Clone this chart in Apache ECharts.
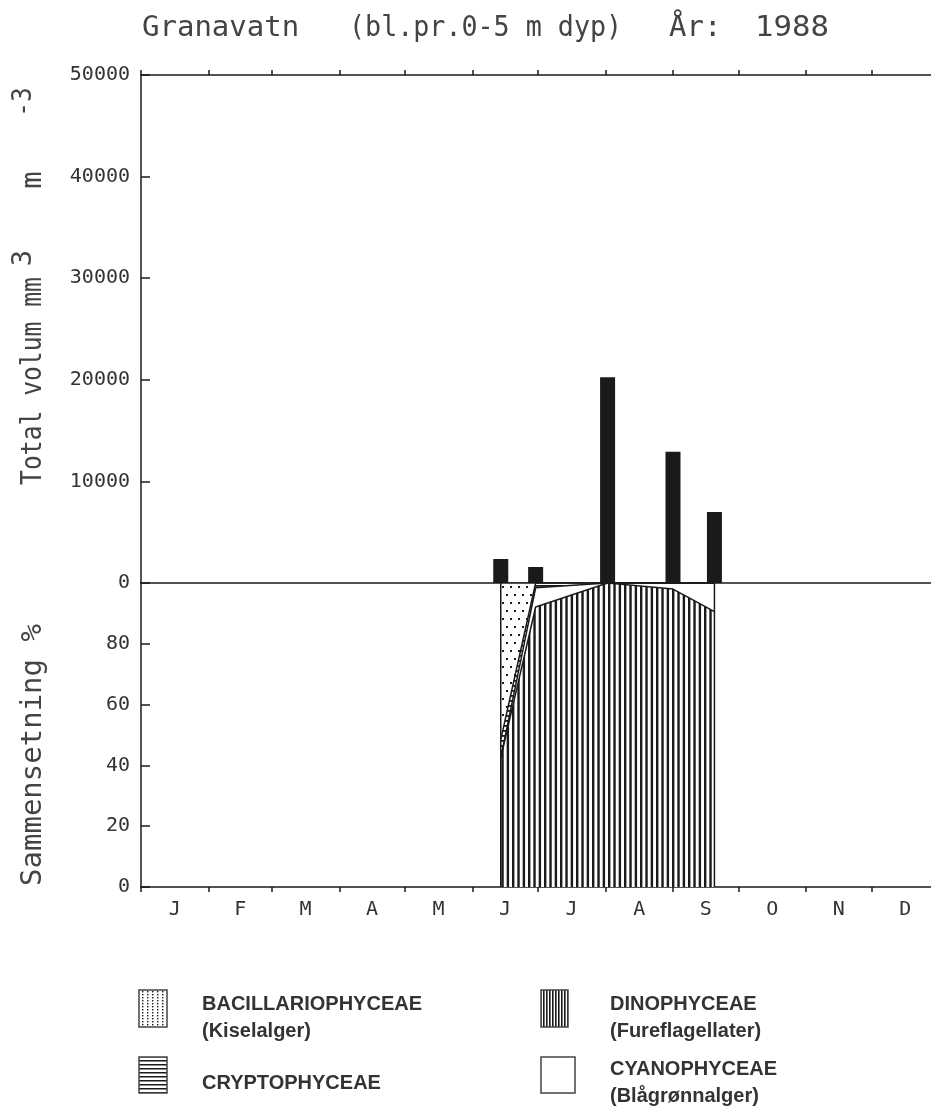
<!DOCTYPE html>
<html><head><meta charset="utf-8">
<script src="https://cdn.jsdelivr.net/npm/echarts@6/dist/echarts.min.js"></script>
<style>html,body{margin:0;padding:0;background:#fff}#c{width:931px;height:1116px}</style>
</head><body><div id="c"></div>
<script>
// ---- data ----
const monthLabels = ['J','F','M','A','M','J','J','A','S','O','N','D'];
const monthStartDays = [0,31,60,91,121,152,182,213,244,274,305,335,366]; // 1988 (leap year)
const volumeTicks = [0,10000,20000,30000,40000,50000];
const percentTicks = [0,20,40,60,80,100];
const sampleDays = [165,181,214,244,263];           // day of year of samples
const totalVolume = [2360,1575,20250,12920,6990];    // mm3 m-3
const dinophyceae = [42.5,92.1,100,98,90.6];         // %
const cyanophyceae = [0,6.3,0,2,9.4];
const cryptophyceae = [6,1.6,0,0,0];
const bacillariophyceae = [51.5,0,0,0,0];

// ---- patterns ----
function pat(w,h,draw){const c=document.createElement('canvas');c.width=w;c.height=h;const g=c.getContext('2d');g.fillStyle='#fff';g.fillRect(0,0,w,h);g.fillStyle='#1a1a1a';draw(g);return {image:c,repeat:'repeat'};}
const pDino = pat(16,4,g=>{g.fillRect(0,0,2.4,4);g.fillRect(5.33,0,2.4,4);g.fillRect(10.67,0,2.4,4);});
const pCrypto = pat(4,5,g=>g.fillRect(0,0,4,1.8));
const pBacil = pat(8,16,g=>{g.fillRect(2,2,2,2);g.fillRect(6,10,2,2);});
const lDino = pat(3,3,g=>g.fillRect(0,0,1.6,3));
const lCrypto = pat(4,4,g=>g.fillRect(0,0,4,1.5));
const lBacil = pat(5,3,g=>g.fillRect(2,1,1.4,1.4));

const monthMid = monthLabels.map((m,i)=>(monthStartDays[i]+monthStartDays[i+1])/2);
const cum = (arrs)=>sampleDays.map((d,i)=>[d, arrs.reduce((s,a)=>s+a[i],0)]);

const ink = '#1a1a1a';
const mono = '"DejaVu Sans Mono", monospace';
const legFont = 'bold 20px "Liberation Sans", Arial, sans-serif';
const axLine = {show:true,onZero:false,lineStyle:{color:ink,width:1.5}};

const chart = echarts.init(document.getElementById('c'));
const lineSeries = (name,data,fill)=>({name,type:'line',xAxisIndex:2,yAxisIndex:1,data,symbol:'none',silent:true,
  lineStyle:{color:ink,width:1.5},areaStyle:{color:fill,opacity:1}});

chart.setOption({
  animation:false,
  backgroundColor:'#fff',
  grid:[
    {left:141,top:75,width:798,height:508,outerBoundsMode:'none',containLabel:false},
    {left:141,top:583,width:798,height:304,outerBoundsMode:'none',containLabel:false}
  ],
  xAxis:[
    {gridIndex:0,type:'value',position:'top',min:0,max:366,axisLine:axLine,
     axisTick:{show:true,customValues:monthStartDays,length:5,lineStyle:{color:ink,width:1.5}},
     axisLabel:{show:false},splitLine:{show:false}},
    {gridIndex:0,type:'value',position:'bottom',min:0,max:366,axisLine:axLine,
     axisTick:{show:false},axisLabel:{show:false},splitLine:{show:false}},
    {gridIndex:1,type:'value',position:'bottom',min:0,max:366,axisLine:axLine,
     axisTick:{show:true,customValues:monthStartDays,length:5,lineStyle:{color:ink,width:1.5}},
     axisLabel:{show:true,customValues:monthMid,margin:13,color:'#333',fontFamily:mono,fontSize:20,
       formatter:v=>{const i=monthMid.findIndex(m=>Math.abs(m-v)<0.01);return i>=0?monthLabels[i]:'';}},
     splitLine:{show:false}}
  ],
  yAxis:[
    {gridIndex:0,type:'value',min:volumeTicks[0],max:volumeTicks[volumeTicks.length-1],interval:10000,
     axisLine:axLine,axisTick:{show:true,inside:true,length:9,lineStyle:{color:ink,width:1.5}},
     axisLabel:{margin:11,color:'#333',fontFamily:mono,fontSize:20,formatter:v=>String(v)},splitLine:{show:false}},
    {gridIndex:1,type:'value',min:percentTicks[0],max:percentTicks[percentTicks.length-1],interval:20,
     axisLine:axLine,axisTick:{show:true,inside:true,length:9,lineStyle:{color:ink,width:1.5}},
     axisLabel:{margin:11,color:'#333',fontFamily:mono,fontSize:20,formatter:v=>v===100?'':String(v)},splitLine:{show:false}}
  ],
  series:[
    {type:'bar',xAxisIndex:1,yAxisIndex:0,barWidth:15,silent:true,
     data:sampleDays.map((d,i)=>[d,totalVolume[i]]),itemStyle:{color:ink}},
    lineSeries('BACILLARIOPHYCEAE',cum([dinophyceae,cyanophyceae,cryptophyceae,bacillariophyceae]),pBacil),
    lineSeries('CRYPTOPHYCEAE',cum([dinophyceae,cyanophyceae,cryptophyceae]),pCrypto),
    lineSeries('CYANOPHYCEAE',cum([dinophyceae,cyanophyceae]),'#fff'),
    lineSeries('DINOPHYCEAE',cum([dinophyceae]),pDino),
    {type:'line',xAxisIndex:2,yAxisIndex:1,symbol:'none',silent:true,lineStyle:{color:ink,width:1.5},
     data:[[sampleDays[0],0],[sampleDays[0],100]]},
    {type:'line',xAxisIndex:2,yAxisIndex:1,symbol:'none',silent:true,lineStyle:{color:ink,width:1.5},
     data:[[sampleDays[sampleDays.length-1],0],[sampleDays[sampleDays.length-1],100]]}
  ],
  graphic:[
    {type:'text',x:142,y:28,style:{text:'Granavatn',font:'29px '+mono,fill:'#444',align:'left',verticalAlign:'middle'}},
    {type:'text',x:349,y:28,scaleX:0.92,style:{text:'(bl.pr.0-5 m dyp)',font:'29px '+mono,fill:'#444',align:'left',verticalAlign:'middle'}},
    {type:'text',x:669,y:28,style:{text:'År:',font:'29px '+mono,fill:'#444',align:'left',verticalAlign:'middle'}},
    {type:'text',x:755,y:28,scaleX:1.06,style:{text:'1988',font:'29px '+mono,fill:'#444',align:'left',verticalAlign:'middle'}},
    {type:'text',x:33,y:381,rotation:Math.PI/2,scaleX:0.85,style:{text:'Total volum mm',font:'29px '+mono,fill:'#444',align:'center',verticalAlign:'middle'}},
    {type:'text',x:24,y:258,rotation:Math.PI/2,style:{text:'3',font:'27px '+mono,fill:'#444',align:'center',verticalAlign:'middle'}},
    {type:'text',x:33,y:180,rotation:Math.PI/2,style:{text:'m',font:'29px '+mono,fill:'#444',align:'center',verticalAlign:'middle'}},
    {type:'text',x:24,y:102,rotation:Math.PI/2,scaleX:0.9,style:{text:'-3',font:'27px '+mono,fill:'#444',align:'center',verticalAlign:'middle'}},
    {type:'text',x:33,y:755,rotation:Math.PI/2,style:{text:'Sammensetning %',font:'29px '+mono,fill:'#444',align:'center',verticalAlign:'middle'}},
    // legend
    {type:'rect',shape:{x:139,y:990,width:28,height:37},style:{fill:lBacil,stroke:'#444',lineWidth:1.5}},
    {type:'text',x:202,y:1004,style:{text:'BACILLARIOPHYCEAE',font:legFont,fill:'#333',verticalAlign:'middle'}},
    {type:'text',x:202,y:1031,style:{text:'(Kiselalger)',font:legFont,fill:'#333',verticalAlign:'middle'}},
    {type:'rect',shape:{x:139,y:1057,width:28,height:36},style:{fill:lCrypto,stroke:'#444',lineWidth:1.5}},
    {type:'text',x:202,y:1083,style:{text:'CRYPTOPHYCEAE',font:legFont,fill:'#333',verticalAlign:'middle'}},
    {type:'rect',shape:{x:541,y:990,width:27,height:37},style:{fill:lDino,stroke:'#444',lineWidth:1.5}},
    {type:'text',x:610,y:1004,style:{text:'DINOPHYCEAE',font:legFont,fill:'#333',verticalAlign:'middle'}},
    {type:'text',x:610,y:1031,style:{text:'(Fureflagellater)',font:legFont,fill:'#333',verticalAlign:'middle'}},
    {type:'rect',shape:{x:541,y:1057,width:34,height:36},style:{fill:'#fff',stroke:'#444',lineWidth:1.5}},
    {type:'text',x:610,y:1069,style:{text:'CYANOPHYCEAE',font:legFont,fill:'#333',verticalAlign:'middle'}},
    {type:'text',x:610,y:1096,style:{text:'(Blågrønnalger)',font:legFont,fill:'#333',verticalAlign:'middle'}}
  ]
});
</script></body></html>
